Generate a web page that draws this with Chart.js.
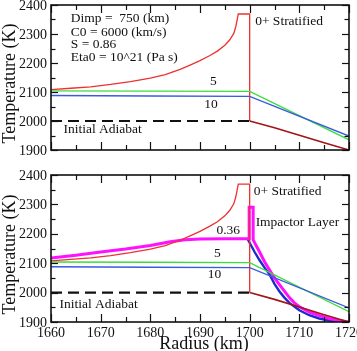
<!DOCTYPE html>
<html><head><meta charset="utf-8">
<script src="https://cdn.jsdelivr.net/npm/chart.js@4"></script>
<style>
html,body{margin:0;padding:0;background:#fff;overflow:hidden;width:357px;height:351px}
#c1{position:absolute;left:0;top:0}
#c2{position:absolute;left:0;top:162px}
</style>
</head><body>
<canvas id="c1" width="357" height="162"></canvas>
<canvas id="c2" width="357" height="189"></canvas>
<script>
// ---- tick labels ----
const xTicks = [1660, 1670, 1680, 1690, 1700, 1710, 1720];
const yTicks = [1900, 2000, 2100, 2200, 2300, 2400];

// ---- series: 0+ Stratified (red) ----
const strat0R = [1660, 1664, 1668, 1672, 1676, 1680, 1683, 1686, 1688, 1690, 1692, 1693.5, 1695, 1696, 1696.8, 1697.2, 1697.5, 1697.7, 1700, 1700];
const strat0T = [2108, 2113, 2118, 2126, 2136, 2148, 2160, 2178, 2193, 2208, 2226, 2241, 2261, 2280, 2302, 2325, 2350, 2369, 2369, 2000];

// ---- Initial adiabat ----
const adiabatR = [1660, 1700, 1705, 1710, 1715, 1720];
const adiabatT = [2000, 2000, 1977, 1951, 1925, 1900];

// ---- t = 5 (green) ----
const s5R = [1660, 1680, 1700, 1720];
const s5T = [2104, 2103, 2102, 1935];

// ---- t = 10 (blue) ----
const s10R = [1660, 1680, 1700, 1720];
const s10T = [2088, 2086, 2085, 1948];

// ---- t = 0.36 with impactor layer (magenta) ----
const s036R = [1660, 1665, 1670, 1675, 1680, 1684, 1687, 1690, 1695, 1699.9, 1699.9, 1700.7, 1700.7, 1701.3, 1702, 1703, 1704, 1705, 1706, 1707, 1708, 1709, 1710, 1712, 1714, 1716, 1718, 1720];
const s036T = [2118, 2127, 2138, 2148, 2160, 2173, 2180, 2182, 2183, 2183, 2290, 2290, 2180, 2160, 2138, 2105, 2077, 2050, 2027, 2005, 1983, 1965, 1952, 1934, 1922, 1912, 1905, 1900];

// ---- t = 0.36 second profile (dark blue) ----
const s036bR = [1699.5, 1701, 1702, 1703, 1704, 1705, 1706, 1707, 1708, 1710, 1712, 1714, 1716, 1718, 1720];
const s036bT = [2185, 2138, 2110, 2085, 2062, 2030, 2004, 1983, 1965, 1940, 1923, 1912, 1905, 1899, 1896];

const pts = (r, t) => r.map((v, i) => ({x: v, y: t[i]}));
const SERIF = '"Liberation Serif", "DejaVu Serif", serif';

function commonDatasets() {
  return [
    {label:'adiabat', data: pts(adiabatR, adiabatT), borderColor:'#111', borderWidth:2.2,
     segment:{
       borderColor: c => c.p0.parsed.x >= 1700 ? '#a01515' : '#111',
       borderDash: c => c.p0.parsed.x >= 1700 ? [] : [11, 6],
       borderWidth: c => c.p0.parsed.x >= 1700 ? 1.6 : 2.2
     }},
    {label:'10', data: pts(s10R, s10T), borderColor:'#3a5ae0', borderWidth:1.4},
    {label:'5', data: pts(s5R, s5T), borderColor:'#3ddc3d', borderWidth:1.4},
    {label:'0+', data: pts(strat0R, strat0T), borderColor:'#ee3030', borderWidth:1.3}
  ];
}

const framePlugin = {
  id: 'frame',
  afterDatasetsDraw(chart, args, opts) {
    const {ctx, chartArea: a, scales: {x, y}} = chart;
    ctx.save();
    ctx.strokeStyle = '#111';
    ctx.lineWidth = 1.6;
    ctx.strokeRect(a.left, a.top, a.right - a.left, a.bottom - a.top);
    ctx.lineWidth = 1.2;
    const line = (x1, y1, x2, y2) => { ctx.beginPath(); ctx.moveTo(x1, y1); ctx.lineTo(x2, y2); ctx.stroke(); };
    for (let v = x.min; v <= x.max; v += 5) {
      const px = Math.round(x.getPixelForValue(v)) + 0.5;
      const L = (v % 10 === 0) ? 8 : 5;
      line(px, a.bottom, px, a.bottom - L);
      line(px, a.top, px, a.top + L);
    }
    for (let v = y.min; v <= y.max; v += 50) {
      const py = Math.round(y.getPixelForValue(v)) + 0.5;
      const L = (v % 100 === 0) ? 7 : 4.5;
      line(a.left, py, a.left + L, py);
      line(a.right, py, a.right - L, py);
    }
    ctx.fillStyle = '#111';
    ctx.font = '14px ' + SERIF;
    ctx.textAlign = 'right'; ctx.textBaseline = 'middle';
    yTicks.forEach(v => ctx.fillText(String(v), a.left - 4, y.getPixelForValue(v) + 1));
    if (opts.xLabels) {
      ctx.textAlign = 'center'; ctx.textBaseline = 'middle';
      xTicks.forEach(v => ctx.fillText(String(v), x.getPixelForValue(v), a.bottom + 11));
      ctx.font = '18px ' + SERIF;
      ctx.fillText('Radius (km)', (a.left + a.right) / 2 + 4, a.bottom + 22);
    }
    // y-axis title
    ctx.save();
    ctx.font = '18px ' + SERIF;
    ctx.translate(10, (a.top + a.bottom) / 2 + 6);
    ctx.rotate(-Math.PI / 2);
    ctx.textAlign = 'center'; ctx.textBaseline = 'middle';
    ctx.fillText('Temperature (K)', 0, 0);
    ctx.restore();
    // annotations
    ctx.font = '13.5px ' + SERIF;
    ctx.textBaseline = 'middle';
    (opts.notes || []).forEach(n => {
      ctx.textAlign = n.align || 'left';
      ctx.fillText(n.text, x.getPixelForValue(n.x), y.getPixelForValue(n.y));
    });
    ctx.restore();
  }
};

function makeChart(id, datasets, padTop, xHeight, notes, xLabels) {
  return new Chart(document.getElementById(id), {
    type: 'line',
    data: {datasets},
    options: {
      responsive: false, animation: false, devicePixelRatio: 1,
      parsing: true,
      layout: {padding: {top: padTop, right: 8, left: 0, bottom: 0}},
      elements: {point: {radius: 0}, line: {tension: 0, fill: false}},
      plugins: {legend: {display: false}, tooltip: {enabled: false},
                frame: {notes, xLabels}},
      scales: {
        x: {type: 'linear', min: 1660, max: 1720,
            ticks: {display: false}, grid: {display: false}, border: {display: false},
            afterFit: s => { s.height = xHeight; }},
        y: {type: 'linear', min: 1900, max: 2400,
            ticks: {display: false}, grid: {display: false}, border: {display: false},
            afterFit: s => { s.width = 51; }}
      }
    },
    plugins: [framePlugin]
  });
}

const topNotes = [
  {text: 'Dimp =  750 (km)', x: 1664.0, y: 2353},
  {text: 'C0 = 6000 (km/s)', x: 1664.0, y: 2307},
  {text: 'S = 0.86', x: 1664.0, y: 2264},
  {text: 'Eta0 = 10^21 (Pa s)', x: 1664.0, y: 2219},
  {text: '0+ Stratified', x: 1701.1, y: 2344},
  {text: '5', x: 1692.7, y: 2136, align: 'center'},
  {text: '10', x: 1692.2, y: 2058, align: 'center'},
  {text: 'Initial Adiabat', x: 1662.5, y: 1971}
];
const botNotes = [
  {text: '0+ Stratified', x: 1700.8, y: 2345},
  {text: 'Impactor Layer', x: 1701.2, y: 2237},
  {text: '0.36', x: 1695.7, y: 2212, align: 'center'},
  {text: '5', x: 1693.5, y: 2133, align: 'center'},
  {text: '10', x: 1692.9, y: 2061, align: 'center'},
  {text: 'Initial Adiabat', x: 1661.7, y: 1960}
];

makeChart('c1', commonDatasets(), 5, 12, topNotes, false);

const botSets = commonDatasets();
botSets.push({label:'0.36', data: pts(s036R, s036T), borderColor:'#ff10ff', borderWidth:3});
botSets.push({label:'0.36b', data: pts(s036bR, s036bT), borderColor:'#1c2ccc', borderWidth:2.4});
makeChart('c2', botSets, 13, 29, botNotes, true);
</script>
</body></html>
